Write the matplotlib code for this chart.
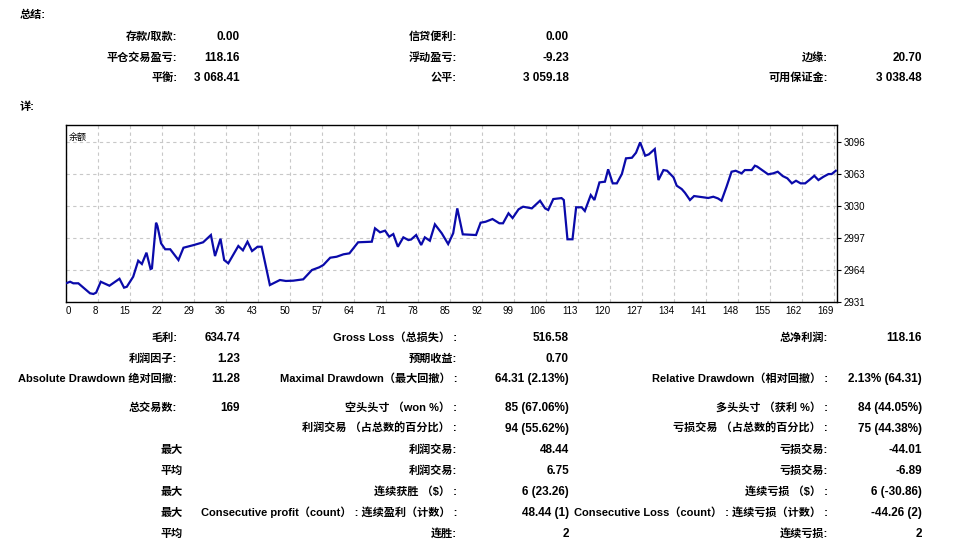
import matplotlib
matplotlib.use("Agg")
import matplotlib.pyplot as plt

W, H = 967, 544
FAM = ['Liberation Sans', 'Noto Sans CJK SC', 'DejaVu Sans']

# ---- balance curve (trade position, balance) ----
trade_pos = [0, 0.9, 1.6, 2.7, 5.25, 6.0, 6.6, 7.6, 9.5, 11.7, 12.7, 13.3, 14.7, 15.8, 16.6,
             17.6, 18.5, 18.8, 19.7, 20.0, 20.8, 21.7, 22.8, 24.6, 25.7, 27.9, 30.0, 31.7,
             32.6, 33.8, 34.6, 35.5, 37.7, 38.7, 39.7, 40.7, 41.9, 42.8, 44.6, 46.8, 48.1,
             49.7, 51.9, 53.8, 55.4, 56.3, 57.8, 59.2, 60.7, 62.0, 63.9, 66.9, 67.6, 68.7,
             69.8, 70.7, 71.6, 72.6, 73.8, 74.9, 75.5, 76.6, 77.7, 78.5, 79.6, 80.7, 82.2,
             83.6, 84.7, 85.6, 86.8, 89.7, 90.7, 91.8, 93.3, 94.8, 95.6, 96.8, 97.7, 99.0,
             100.0, 101.9, 103.7, 104.8, 105.5, 106.6, 108.4, 108.9, 109.7, 110.8, 111.6,
             112.8, 113.5, 114.8, 115.6, 116.7, 117.9, 118.6, 119.6, 120.5, 121.6, 122.5,
             123.8, 124.7, 125.6, 126.7, 127.5, 128.8, 129.6, 130.7, 131.5, 132.9, 133.6,
             134.7, 135.4, 136.5, 137.4, 139.4, 140.5, 141.6, 142.6, 143.4, 144.5, 145.6,
             146.5, 147.8, 148.5, 150.0, 150.7, 151.2, 152.5, 153.6, 154.7, 155.7, 156.8,
             157.8, 158.8, 159.7, 160.7, 161.7, 162.6, 163.7, 164.6, 165.7, 166.8, 167.5,
             168.4]
balance = [2950.6, 2952.2, 2950.6, 2950.6, 2940.3, 2939.6, 2941.0, 2952.2, 2948.1, 2955.3,
           2946.1, 2947.0, 2957.4, 2973.9, 2970.5, 2982.2, 2965.3, 2966.0, 3013.1, 3009.7,
           2991.8, 2985.7, 2985.7, 2974.6, 2987.3, 2990.0, 2992.9, 3000.4, 2978.7, 2996.6,
           2974.6, 2971.2, 2989.1, 2984.6, 2993.5, 2983.9, 2988.3, 2988.3, 2948.8, 2954.0,
           2953.0, 2953.3, 2954.7, 2964.3, 2967.1, 2969.5, 2977.0, 2978.0, 2980.5, 2981.5,
           2992.9, 2993.5, 3007.3, 3003.2, 3004.9, 2998.7, 3001.4, 2988.3, 2998.0, 2995.2,
           2995.8, 3000.4, 2990.1, 2998.0, 2994.5, 3011.4, 3002.2, 2991.1, 3002.2, 3027.9,
           3001.1, 3000.4, 3013.1, 3014.1, 3016.9, 3012.5, 3012.5, 3022.8, 3017.9, 3026.9,
           3029.6, 3027.9, 3035.8, 3027.9, 3026.2, 3037.5, 3038.5, 3036.5, 2996.0, 2996.0,
           3029.0, 3029.0, 3025.2, 3041.6, 3036.5, 3054.7, 3055.4, 3068.2, 3053.7, 3053.7,
           3063.3, 3079.5, 3080.1, 3085.3, 3096.0, 3082.2, 3083.6, 3089.1, 3057.1, 3067.4,
           3066.7, 3059.9, 3051.3, 3047.8, 3044.0, 3036.5, 3040.6, 3039.3, 3038.6, 3039.9,
           3038.2, 3035.8, 3050.2, 3065.7, 3066.7, 3064.0, 3067.4, 3067.4, 3071.9, 3071.0,
           3066.7, 3063.0, 3064.0, 3065.7, 3061.2, 3058.9, 3053.7, 3056.4, 3053.7, 3053.7,
           3057.1, 3061.5, 3057.1, 3060.5, 3063.3, 3063.3, 3066.7]

x_tick_pos = [0] + [7 * k for k in range(1, 25)]
x_tick_labels = ['0'] + [str(7 * k + 1) for k in range(1, 25)]
y_ticks = [2931, 2964, 2997, 3030, 3063, 3096]
chart_label = '余额'

# ---- text tables ----
summary_title = '总结:'
detail_title = '详:'
sum_c1_labels = ['存款/取款:', '平仓交易盈亏:', '平衡:']
sum_c1_values = ['0.00', '118.16', '3 068.41']
sum_c2_labels = ['信贷便利:', '浮动盈亏:', '公平:']
sum_c2_values = ['0.00', '-9.23', '3 059.18']
sum_c3_labels = ['边缘:', '可用保证金:']
sum_c3_values = ['20.70', '3 038.48']

st_c1_labels = ['毛利:', '利润因子:', 'Absolute Drawdown 绝对回撤:', '总交易数:']
st_c1_values = ['634.74', '1.23', '11.28', '169']
st_c1b_labels = ['最大', '平均', '最大', '最大', '平均']
st_c2_labels = ['Gross Loss（总损失） :', '预期收益:', 'Maximal Drawdown（最大回撤） :',
                '空头头寸 （won %） :', '利润交易 （占总数的百分比） :', '利润交易:', '利润交易:',
                '连续获胜 （$） :', 'Consecutive profit（count） : 连续盈利（计数） :', '连胜:']
st_c2_values = ['516.58', '0.70', '64.31 (2.13%)', '85 (67.06%)', '94 (55.62%)', '48.44',
                '6.75', '6 (23.26)', '48.44 (1)', '2']
st_c3_labels = ['总净利润:', '', 'Relative Drawdown（相对回撤） :', '多头头寸 （获利 %） :',
                '亏损交易 （占总数的百分比） :', '亏损交易:', '亏损交易:', '连续亏损 （$） :',
                'Consecutive Loss（count） : 连续亏损（计数） :', '连续亏损:']
st_c3_values = ['118.16', '', '2.13% (64.31)', '84 (44.05%)', '75 (44.38%)', '-44.01',
                '-6.89', '6 (-30.86)', '-44.26 (2)', '2']

fig = plt.figure(figsize=(W / 100, H / 100), dpi=100)
fig.patch.set_facecolor('white')


def T(x, y, s, ha='right', size=8, weight='bold'):
    # y is the visual centre of the row; place on a common baseline
    fig.text(x / W, 1 - (y + 4) / H, s, ha=ha, va='baseline', fontsize=size,
             fontweight=weight, family=FAM, color='black')


def V(x, y, s):
    T(x, y, s, size=8.5)


T(20, 14, summary_title, ha='left')
T(20, 106, detail_title, ha='left')
sum_rows = [36, 57, 77]
for i, (l, v) in enumerate(zip(sum_c1_labels, sum_c1_values)):
    T(177, sum_rows[i], l)
    V(240, sum_rows[i], v)
for i, (l, v) in enumerate(zip(sum_c2_labels, sum_c2_values)):
    T(457, sum_rows[i], l)
    V(569, sum_rows[i], v)
for i, (l, v) in enumerate(zip(sum_c3_labels, sum_c3_values)):
    T(828, sum_rows[i + 1], l)
    V(922, sum_rows[i + 1], v)

st_rows = [337, 358, 378, 407, 428, 449, 470, 491, 512, 533]
for i, (l, v) in enumerate(zip(st_c1_labels, st_c1_values)):
    T(177, st_rows[i], l)
    V(240, st_rows[i], v)
for i, l in enumerate(st_c1b_labels):
    T(183, st_rows[i + 5], l)
for i, (l, v) in enumerate(zip(st_c2_labels, st_c2_values)):
    T(457, st_rows[i], l)
    V(569, st_rows[i], v)
for i, (l, v) in enumerate(zip(st_c3_labels, st_c3_values)):
    if l:
        T(828, st_rows[i], l)
        V(922, st_rows[i], v)

# ---- chart ----
L, R, TOP, BOT = 66, 836.7, 124.7, 302.3
ax = fig.add_axes([L / W, 1 - BOT / H, (R - L) / W, (BOT - TOP) / H])
ax.plot(trade_pos, balance, color='#0A0AAA', lw=1.6, solid_joinstyle='miter', zorder=3)
ax.set_xlim(0, 168.6)
ax.set_ylim(2931, 3114.2)
ax.set_xticks(x_tick_pos)
ax.set_xticklabels(x_tick_labels)
for i, lab in enumerate(ax.get_xticklabels()):
    lab.set_ha('left' if i == 0 else 'right')
ax.set_yticks(y_ticks)
ax.set_yticklabels([str(v) for v in y_ticks])
ax.yaxis.tick_right()
ax.tick_params(axis='x', length=0, pad=3, labelsize=7)
ax.tick_params(axis='y', length=3, pad=2, labelsize=7, direction='out')
for lab in ax.get_xticklabels() + ax.get_yticklabels():
    lab.set_family(['Liberation Sans', 'DejaVu Sans'])
ax.grid(True, color='#C8C8C8', linestyle=(0, (3, 3)), lw=0.8, zorder=0)
for s in ax.spines.values():
    s.set_color('black')
    s.set_linewidth(1.0)
ax.text(0.004, 0.93, chart_label, transform=ax.transAxes, fontsize=6.5,
        family=['Noto Sans CJK SC', 'DejaVu Sans'], ha='left', va='center')

fig.savefig('out.png', dpi=100)
